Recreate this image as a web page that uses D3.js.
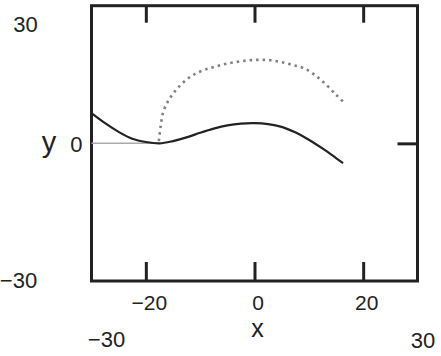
<!DOCTYPE html>
<meta charset="utf-8">
<script src="https://d3js.org/d3.v7.min.js"></script>
<style>
  body { margin: 0; background: #fff; }
  text { font-family: "Liberation Sans", Arial, sans-serif; fill: #222; }
</style>
<body>
<div id="my_dataviz"></div>
<script>

// data
var solidX = [-30, -27.5, -25, -22.5, -20, -17.5, -15, -12.5, -10, -7.5, -5, -2.5, 0, 2.5, 5, 7.5, 10, 12.5, 15, 16.3]
var solidY = [6.6, 4.4, 2.5, 1.0, 0.3, 0, 0.5, 1.3, 2.3, 3.2, 3.9, 4.3, 4.4, 4.2, 3.6, 2.4, 0.8, -1.1, -3.2, -4.3]

var dottedX = [-17.6, -17.3, -16.8, -16, -15, -14, -12.5, -11, -9, -7, -5, -3, -1, 1, 3, 5, 7, 9, 11, 13, 15, 16.3]
var dottedY = [0.5, 3.5, 6.8, 9.0, 10.8, 12.2, 13.9, 15.1, 16.1, 16.8, 17.4, 17.8, 18.1, 18.2, 18.1, 17.7, 17.1, 16.4, 15.0, 13.0, 10.6, 9.1]

var baseX = [-30, -17.6]
var baseY = [0, 0]

var xTicks = [-20, 0, 20]
var yTicks = [0]
var xDomain = [-30, 30]
var yDomain = [-30, 30]
var limitLabels = ["30", "\u221230", "\u221230", "30"]   // y max, y min, x min, x max

var width = 441, height = 356

var svg = d3.select("#my_dataviz")
  .append("svg")
    .attr("width", width)
    .attr("height", height)

var x = d3.scaleLinear()
  .domain(xDomain)
  .range([91.5, 417.5])

var y = d3.scaleLinear()
  .domain(yDomain)
  .range([281, 5.7])

var fmt = function(d){ return d < 0 ? "\u2212" + Math.abs(d) : d }

// bottom axis, ticks pointing in
var axBottom = svg.append("g")
  .attr("transform", "translate(0," + y(yDomain[0]) + ")")
  .call(d3.axisBottom(x).tickValues(xTicks).tickSize(-19).tickPadding(14).tickFormat(fmt))
  .attr("font-size", 21)
axBottom.selectAll("text").attr("dx", 3)

// top axis, no labels
svg.append("g")
  .attr("transform", "translate(0," + y(yDomain[1]) + ")")
  .call(d3.axisTop(x).tickValues(xTicks).tickSize(-17).tickFormat(""))

// right axis, single tick
svg.append("g")
  .attr("transform", "translate(" + x(xDomain[1]) + ",0)")
  .call(d3.axisRight(y).tickValues(yTicks).tickSize(-20).tickFormat(""))

// left side only carries the label
var axLeft = svg.append("g")
  .attr("transform", "translate(" + x(xDomain[0]) + ",0)")
  .call(d3.axisLeft(y).tickValues(yTicks).tickSize(0).tickPadding(9))
  .attr("font-size", 22)
axLeft.selectAll("text").attr("dy", "0.38em")

svg.selectAll(".domain").remove()
svg.selectAll(".tick line").attr("stroke", "#222").attr("stroke-width", 3)
svg.selectAll(".tick text").attr("fill", "#222")

// frame
svg.append("rect")
  .attr("x", x(xDomain[0]))
  .attr("y", y(yDomain[1]))
  .attr("width", x(xDomain[1]) - x(xDomain[0]))
  .attr("height", y(yDomain[0]) - y(yDomain[1]))
  .attr("fill", "none")
  .attr("stroke", "#222")
  .attr("stroke-width", 3)

var line = d3.line()
  .x(function(d){ return x(d[0]) })
  .y(function(d){ return y(d[1]) })
  .curve(d3.curveCatmullRom)

svg.append("path")
  .datum(d3.zip(baseX, baseY))
  .attr("d", line)
  .attr("fill", "none")
  .attr("stroke", "#aaa")
  .attr("stroke-width", 1.5)

svg.append("path")
  .datum(d3.zip(dottedX, dottedY))
  .attr("d", line)
  .attr("fill", "none")
  .attr("stroke", "#808080")
  .attr("stroke-width", 2.6)
  .attr("stroke-dasharray", "2.5,4")

svg.append("path")
  .datum(d3.zip(solidX, solidY))
  .attr("d", line)
  .attr("fill", "none")
  .attr("stroke", "#222")
  .attr("stroke-width", 2.2)

// axis titles
svg.append("text")
  .attr("x", 49)
  .attr("y", 152)
  .attr("text-anchor", "middle")
  .attr("font-size", 29)
  .text("y")

svg.append("text")
  .attr("x", (x(0) + 3))
  .attr("y", 337)
  .attr("text-anchor", "middle")
  .attr("font-size", 25)
  .text("x")

// range labels
svg.selectAll(".limit")
  .data(limitLabels)
  .enter().append("text")
    .attr("class", "limit")
    .attr("x", function(d, i){ return [25.5, 18.5, 106.5, 423][i] })
    .attr("y", function(d, i){ return [32, 288, 347, 348][i] })
    .attr("text-anchor", "middle")
    .attr("font-size", 22)
    .text(function(d){ return d })

</script>
</body>
